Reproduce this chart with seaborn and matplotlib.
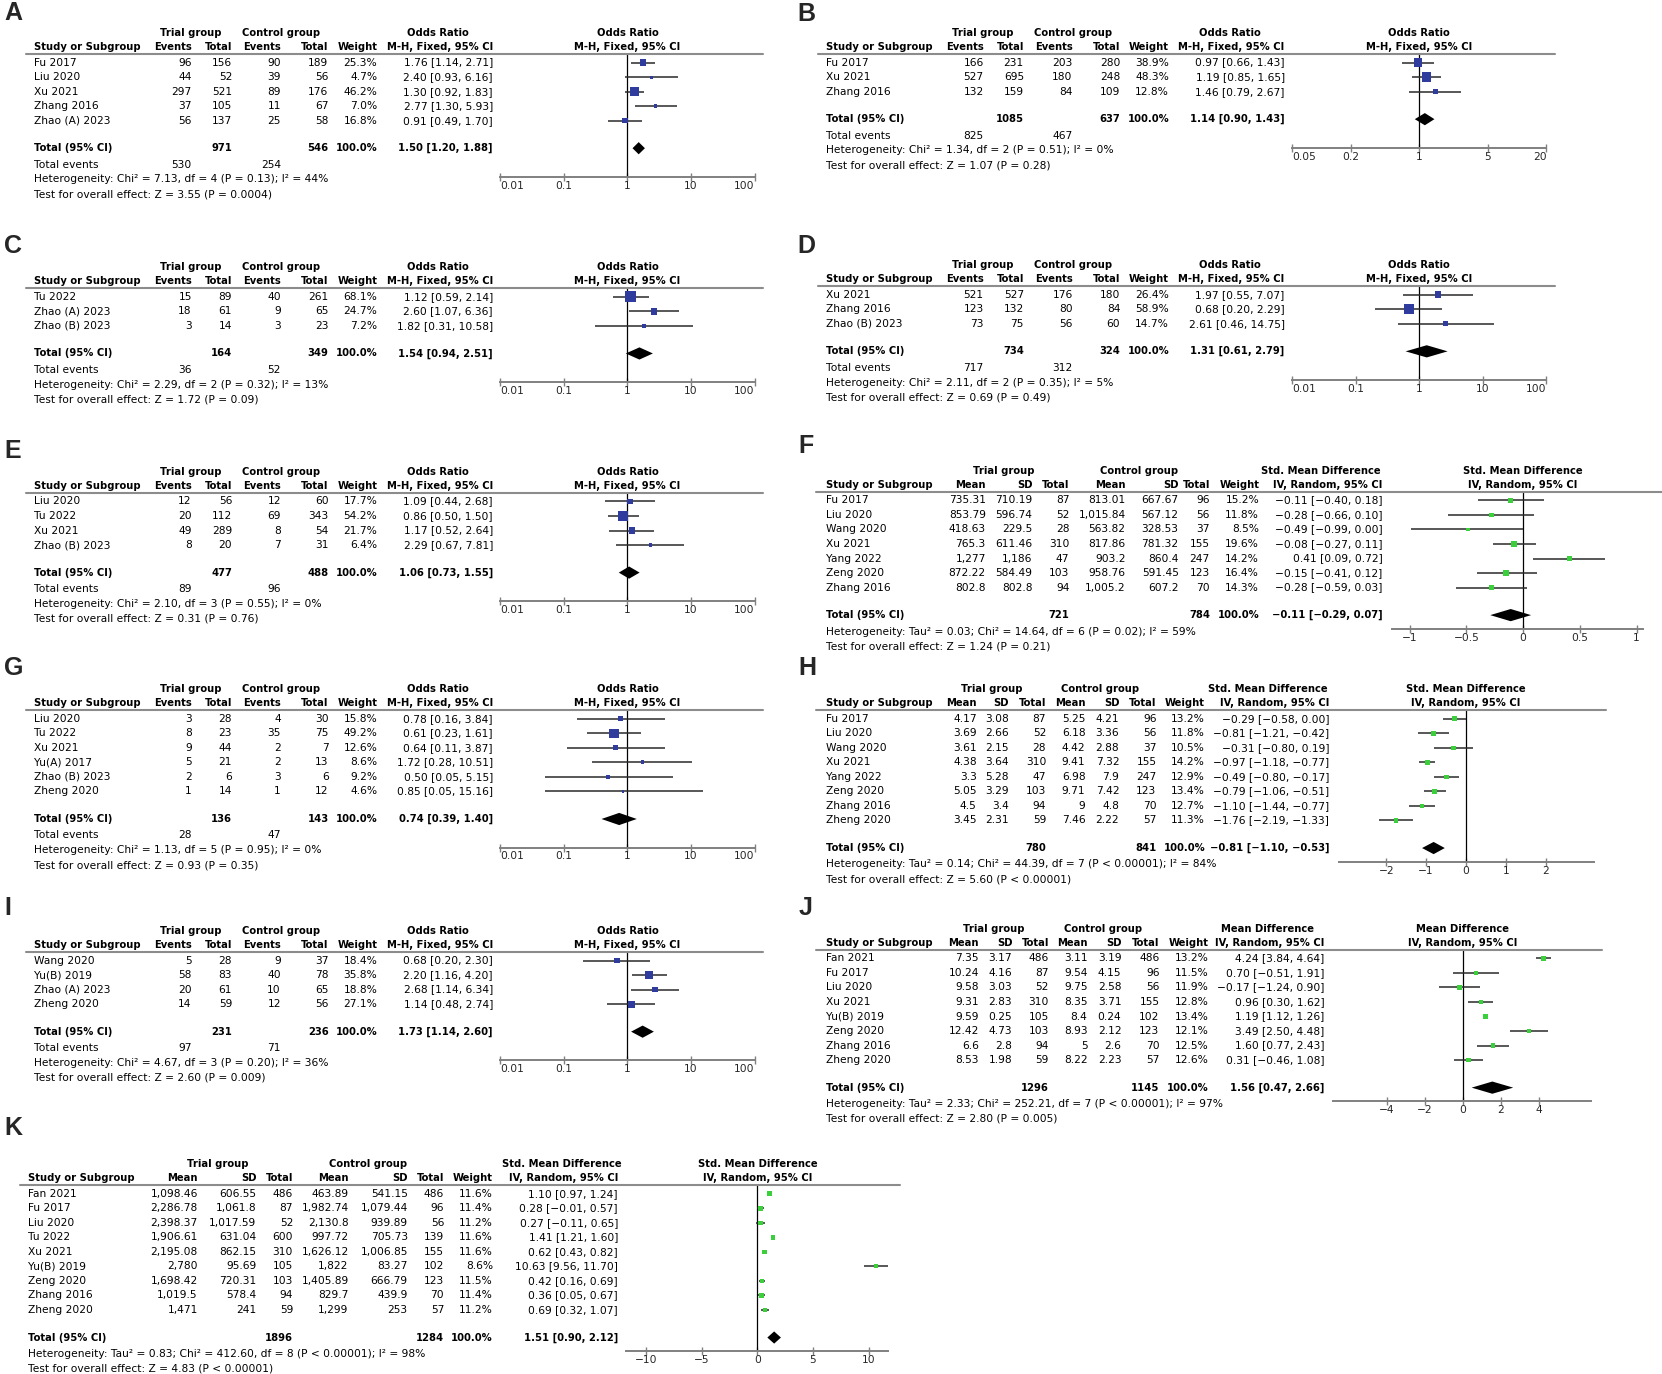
import matplotlib
matplotlib.use("Agg")
import matplotlib.pyplot as plt
from matplotlib.lines import Line2D
import seaborn as sns

# ---------------- data ----------------
# A
a_study = ["Fu 2017", "Liu 2020", "Xu 2021", "Zhang 2016", "Zhao (A) 2023"]
a_ev1 = [96, 44, 297, 37, 56]
a_tot1 = [156, 52, 521, 105, 137]
a_ev2 = [90, 39, 89, 11, 25]
a_tot2 = [189, 56, 176, 67, 58]
a_wt = [25.3, 4.7, 46.2, 7.0, 16.8]
a_est = [1.76, 2.40, 1.30, 2.77, 0.91]
a_lo = [1.14, 0.93, 0.92, 1.30, 0.49]
a_hi = [2.71, 6.16, 1.83, 5.93, 1.70]
a_total = [971, 546]
a_total_ci = [1.50, 1.20, 1.88]
a_events = [530, 254]
a_het = "Heterogeneity: Chi\u00b2 = 7.13, df = 4 (P = 0.13); I\u00b2 = 44%"
a_test = "Test for overall effect: Z = 3.55 (P = 0.0004)"

# B
b_study = ["Fu 2017", "Xu 2021", "Zhang 2016"]
b_ev1 = [166, 527, 132]
b_tot1 = [231, 695, 159]
b_ev2 = [203, 180, 84]
b_tot2 = [280, 248, 109]
b_wt = [38.9, 48.3, 12.8]
b_est = [0.97, 1.19, 1.46]
b_lo = [0.66, 0.85, 0.79]
b_hi = [1.43, 1.65, 2.67]
b_total = [1085, 637]
b_total_ci = [1.14, 0.90, 1.43]
b_events = [825, 467]
b_het = "Heterogeneity: Chi\u00b2 = 1.34, df = 2 (P = 0.51); I\u00b2 = 0%"
b_test = "Test for overall effect: Z = 1.07 (P = 0.28)"

# C
c_study = ["Tu 2022", "Zhao (A) 2023", "Zhao (B) 2023"]
c_ev1 = [15, 18, 3]
c_tot1 = [89, 61, 14]
c_ev2 = [40, 9, 3]
c_tot2 = [261, 65, 23]
c_wt = [68.1, 24.7, 7.2]
c_est = [1.12, 2.60, 1.82]
c_lo = [0.59, 1.07, 0.31]
c_hi = [2.14, 6.36, 10.58]
c_total = [164, 349]
c_total_ci = [1.54, 0.94, 2.51]
c_events = [36, 52]
c_het = "Heterogeneity: Chi\u00b2 = 2.29, df = 2 (P = 0.32); I\u00b2 = 13%"
c_test = "Test for overall effect: Z = 1.72 (P = 0.09)"

# D
d_study = ["Xu 2021", "Zhang 2016", "Zhao (B) 2023"]
d_ev1 = [521, 123, 73]
d_tot1 = [527, 132, 75]
d_ev2 = [176, 80, 56]
d_tot2 = [180, 84, 60]
d_wt = [26.4, 58.9, 14.7]
d_est = [1.97, 0.68, 2.61]
d_lo = [0.55, 0.20, 0.46]
d_hi = [7.07, 2.29, 14.75]
d_total = [734, 324]
d_total_ci = [1.31, 0.61, 2.79]
d_events = [717, 312]
d_het = "Heterogeneity: Chi\u00b2 = 2.11, df = 2 (P = 0.35); I\u00b2 = 5%"
d_test = "Test for overall effect: Z = 0.69 (P = 0.49)"

# E
e_study = ["Liu 2020", "Tu 2022", "Xu 2021", "Zhao (B) 2023"]
e_ev1 = [12, 20, 49, 8]
e_tot1 = [56, 112, 289, 20]
e_ev2 = [12, 69, 8, 7]
e_tot2 = [60, 343, 54, 31]
e_wt = [17.7, 54.2, 21.7, 6.4]
e_est = [1.09, 0.86, 1.17, 2.29]
e_lo = [0.44, 0.50, 0.52, 0.67]
e_hi = [2.68, 1.50, 2.64, 7.81]
e_total = [477, 488]
e_total_ci = [1.06, 0.73, 1.55]
e_events = [89, 96]
e_het = "Heterogeneity: Chi\u00b2 = 2.10, df = 3 (P = 0.55); I\u00b2 = 0%"
e_test = "Test for overall effect: Z = 0.31 (P = 0.76)"

# G
g_study = ["Liu 2020", "Tu 2022", "Xu 2021", "Yu(A) 2017", "Zhao (B) 2023", "Zheng 2020"]
g_ev1 = [3, 8, 9, 5, 2, 1]
g_tot1 = [28, 23, 44, 21, 6, 14]
g_ev2 = [4, 35, 2, 2, 3, 1]
g_tot2 = [30, 75, 7, 13, 6, 12]
g_wt = [15.8, 49.2, 12.6, 8.6, 9.2, 4.6]
g_est = [0.78, 0.61, 0.64, 1.72, 0.50, 0.85]
g_lo = [0.16, 0.23, 0.11, 0.28, 0.05, 0.05]
g_hi = [3.84, 1.61, 3.87, 10.51, 5.15, 15.16]
g_total = [136, 143]
g_total_ci = [0.74, 0.39, 1.40]
g_events = [28, 47]
g_het = "Heterogeneity: Chi\u00b2 = 1.13, df = 5 (P = 0.95); I\u00b2 = 0%"
g_test = "Test for overall effect: Z = 0.93 (P = 0.35)"

# I
i_study = ["Wang 2020", "Yu(B) 2019", "Zhao (A) 2023", "Zheng 2020"]
i_ev1 = [5, 58, 20, 14]
i_tot1 = [28, 83, 61, 59]
i_ev2 = [9, 40, 10, 12]
i_tot2 = [37, 78, 65, 56]
i_wt = [18.4, 35.8, 18.8, 27.1]
i_est = [0.68, 2.20, 2.68, 1.14]
i_lo = [0.20, 1.16, 1.14, 0.48]
i_hi = [2.30, 4.20, 6.34, 2.74]
i_total = [231, 236]
i_total_ci = [1.73, 1.14, 2.60]
i_events = [97, 71]
i_het = "Heterogeneity: Chi\u00b2 = 4.67, df = 3 (P = 0.20); I\u00b2 = 36%"
i_test = "Test for overall effect: Z = 2.60 (P = 0.009)"

# F
f_study = ["Fu 2017", "Liu 2020", "Wang 2020", "Xu 2021", "Yang 2022", "Zeng 2020", "Zhang 2016"]
f_mean1 = ["735.31", "853.79", "418.63", "765.3", "1,277", "872.22", "802.8"]
f_sd1 = ["710.19", "596.74", "229.5", "611.46", "1,186", "584.49", "802.8"]
f_n1 = [87, 52, 28, 310, 47, 103, 94]
f_mean2 = ["813.01", "1,015.84", "563.82", "817.86", "903.2", "958.76", "1,005.2"]
f_sd2 = ["667.67", "567.12", "328.53", "781.32", "860.4", "591.45", "607.2"]
f_n2 = [96, 56, 37, 155, 247, 123, 70]
f_wt = [15.2, 11.8, 8.5, 19.6, 14.2, 16.4, 14.3]
f_est = [-0.11, -0.28, -0.49, -0.08, 0.41, -0.15, -0.28]
f_lo = [-0.40, -0.66, -0.99, -0.27, 0.09, -0.41, -0.59]
f_hi = [0.18, 0.10, 0.00, 0.11, 0.72, 0.12, 0.03]
f_total = [721, 784]
f_total_ci = [-0.11, -0.29, 0.07]
f_het = "Heterogeneity: Tau\u00b2 = 0.03; Chi\u00b2 = 14.64, df = 6 (P = 0.02); I\u00b2 = 59%"
f_test = "Test for overall effect: Z = 1.24 (P = 0.21)"

# H
h_study = ["Fu 2017", "Liu 2020", "Wang 2020", "Xu 2021", "Yang 2022", "Zeng 2020", "Zhang 2016", "Zheng 2020"]
h_mean1 = ["4.17", "3.69", "3.61", "4.38", "3.3", "5.05", "4.5", "3.45"]
h_sd1 = ["3.08", "2.66", "2.15", "3.64", "5.28", "3.29", "3.4", "2.31"]
h_n1 = [87, 52, 28, 310, 47, 103, 94, 59]
h_mean2 = ["5.25", "6.18", "4.42", "9.41", "6.98", "9.71", "9", "7.46"]
h_sd2 = ["4.21", "3.36", "2.88", "7.32", "7.9", "7.42", "4.8", "2.22"]
h_n2 = [96, 56, 37, 155, 247, 123, 70, 57]
h_wt = [13.2, 11.8, 10.5, 14.2, 12.9, 13.4, 12.7, 11.3]
h_est = [-0.29, -0.81, -0.31, -0.97, -0.49, -0.79, -1.10, -1.76]
h_lo = [-0.58, -1.21, -0.80, -1.18, -0.80, -1.06, -1.44, -2.19]
h_hi = [0.00, -0.42, 0.19, -0.77, -0.17, -0.51, -0.77, -1.33]
h_total = [780, 841]
h_total_ci = [-0.81, -1.10, -0.53]
h_het = "Heterogeneity: Tau\u00b2 = 0.14; Chi\u00b2 = 44.39, df = 7 (P < 0.00001); I\u00b2 = 84%"
h_test = "Test for overall effect: Z = 5.60 (P < 0.00001)"

# J
j_study = ["Fan 2021", "Fu 2017", "Liu 2020", "Xu 2021", "Yu(B) 2019", "Zeng 2020", "Zhang 2016", "Zheng 2020"]
j_mean1 = ["7.35", "10.24", "9.58", "9.31", "9.59", "12.42", "6.6", "8.53"]
j_sd1 = ["3.17", "4.16", "3.03", "2.83", "0.25", "4.73", "2.8", "1.98"]
j_n1 = [486, 87, 52, 310, 105, 103, 94, 59]
j_mean2 = ["3.11", "9.54", "9.75", "8.35", "8.4", "8.93", "5", "8.22"]
j_sd2 = ["3.19", "4.15", "2.58", "3.71", "0.24", "2.12", "2.6", "2.23"]
j_n2 = [486, 96, 56, 155, 102, 123, 70, 57]
j_wt = [13.2, 11.5, 11.9, 12.8, 13.4, 12.1, 12.5, 12.6]
j_est = [4.24, 0.70, -0.17, 0.96, 1.19, 3.49, 1.60, 0.31]
j_lo = [3.84, -0.51, -1.24, 0.30, 1.12, 2.50, 0.77, -0.46]
j_hi = [4.64, 1.91, 0.90, 1.62, 1.26, 4.48, 2.43, 1.08]
j_total = [1296, 1145]
j_total_ci = [1.56, 0.47, 2.66]
j_het = "Heterogeneity: Tau\u00b2 = 2.33; Chi\u00b2 = 252.21, df = 7 (P < 0.00001); I\u00b2 = 97%"
j_test = "Test for overall effect: Z = 2.80 (P = 0.005)"

# K
k_study = ["Fan 2021", "Fu 2017", "Liu 2020", "Tu 2022", "Xu 2021", "Yu(B) 2019", "Zeng 2020", "Zhang 2016", "Zheng 2020"]
k_mean1 = ["1,098.46", "2,286.78", "2,398.37", "1,906.61", "2,195.08", "2,780", "1,698.42", "1,019.5", "1,471"]
k_sd1 = ["606.55", "1,061.8", "1,017.59", "631.04", "862.15", "95.69", "720.31", "578.4", "241"]
k_n1 = [486, 87, 52, 600, 310, 105, 103, 94, 59]
k_mean2 = ["463.89", "1,982.74", "2,130.8", "997.72", "1,626.12", "1,822", "1,405.89", "829.7", "1,299"]
k_sd2 = ["541.15", "1,079.44", "939.89", "705.73", "1,006.85", "83.27", "666.79", "439.9", "253"]
k_n2 = [486, 96, 56, 139, 155, 102, 123, 70, 57]
k_wt = [11.6, 11.4, 11.2, 11.6, 11.6, 8.6, 11.5, 11.4, 11.2]
k_est = [1.10, 0.28, 0.27, 1.41, 0.62, 10.63, 0.42, 0.36, 0.69]
k_lo = [0.97, -0.01, -0.11, 1.21, 0.43, 9.56, 0.16, 0.05, 0.32]
k_hi = [1.24, 0.57, 0.65, 1.60, 0.82, 11.70, 0.69, 0.67, 1.07]
k_total = [1896, 1284]
k_total_ci = [1.51, 0.90, 2.12]
k_het = "Heterogeneity: Tau\u00b2 = 0.83; Chi\u00b2 = 412.60, df = 8 (P < 0.00001); I\u00b2 = 98%"
k_test = "Test for overall effect: Z = 4.83 (P < 0.00001)"

or_ticks = [0.01, 0.1, 1, 10, 100]
or_ticklabels = ["0.01", "0.1", "1", "10", "100"]
b_ticks = [0.05, 0.2, 1, 5, 20]
b_ticklabels = ["0.05", "0.2", "1", "5", "20"]
f_ticks = [-1, -0.5, 0, 0.5, 1]
f_ticklabels = ["-1", "-0.5", "0", "0.5", "1"]
h_ticks = [-2, -1, 0, 1, 2]
h_ticklabels = ["-2", "-1", "0", "1", "2"]
j_ticks = [-4, -2, 0, 2, 4]
j_ticklabels = ["-4", "-2", "0", "2", "4"]
k_ticks = [-10, -5, 0, 5, 10]
k_ticklabels = ["-10", "-5", "0", "5", "10"]

OR_NAMES = ["Events", "Total", "Events", "Total"]
CONT_NAMES = ["Mean", "SD", "Total", "Mean", "SD", "Total"]


def or_panel(label, study, ev1, tot1, ev2, tot2, wt, est, lo, hi, total, total_ci, events, het, test, ticks, ticklabels):
    return dict(label=label, kind="or", study=study, cols=[ev1, tot1, ev2, tot2], wt=wt, est=est, lo=lo, hi=hi,
                total=total, total_ci=total_ci, events=events, het=het, test=test, ticks=ticks,
                ticklabels=ticklabels, measure="Odds Ratio", method="M-H, Fixed, 95% CI")


def cont_panel(label, study, m1, s1, n1, m2, s2, n2, wt, est, lo, hi, total, total_ci, het, test, ticks, ticklabels,
               measure="Std. Mean Difference"):
    return dict(label=label, kind="cont", study=study, cols=[m1, s1, n1, m2, s2, n2], wt=wt, est=est, lo=lo, hi=hi,
                total=total, total_ci=total_ci, events=None, het=het, test=test, ticks=ticks,
                ticklabels=ticklabels, measure=measure, method="IV, Random, 95% CI")


panels = [
    or_panel("A", a_study, a_ev1, a_tot1, a_ev2, a_tot2, a_wt, a_est, a_lo, a_hi, a_total, a_total_ci, a_events, a_het, a_test, or_ticks, or_ticklabels),
    or_panel("B", b_study, b_ev1, b_tot1, b_ev2, b_tot2, b_wt, b_est, b_lo, b_hi, b_total, b_total_ci, b_events, b_het, b_test, b_ticks, b_ticklabels),
    or_panel("C", c_study, c_ev1, c_tot1, c_ev2, c_tot2, c_wt, c_est, c_lo, c_hi, c_total, c_total_ci, c_events, c_het, c_test, or_ticks, or_ticklabels),
    or_panel("D", d_study, d_ev1, d_tot1, d_ev2, d_tot2, d_wt, d_est, d_lo, d_hi, d_total, d_total_ci, d_events, d_het, d_test, or_ticks, or_ticklabels),
    or_panel("E", e_study, e_ev1, e_tot1, e_ev2, e_tot2, e_wt, e_est, e_lo, e_hi, e_total, e_total_ci, e_events, e_het, e_test, or_ticks, or_ticklabels),
    cont_panel("F", f_study, f_mean1, f_sd1, f_n1, f_mean2, f_sd2, f_n2, f_wt, f_est, f_lo, f_hi, f_total, f_total_ci, f_het, f_test, f_ticks, f_ticklabels),
    or_panel("G", g_study, g_ev1, g_tot1, g_ev2, g_tot2, g_wt, g_est, g_lo, g_hi, g_total, g_total_ci, g_events, g_het, g_test, or_ticks, or_ticklabels),
    cont_panel("H", h_study, h_mean1, h_sd1, h_n1, h_mean2, h_sd2, h_n2, h_wt, h_est, h_lo, h_hi, h_total, h_total_ci, h_het, h_test, h_ticks, h_ticklabels),
    or_panel("I", i_study, i_ev1, i_tot1, i_ev2, i_tot2, i_wt, i_est, i_lo, i_hi, i_total, i_total_ci, i_events, i_het, i_test, or_ticks, or_ticklabels),
    cont_panel("J", j_study, j_mean1, j_sd1, j_n1, j_mean2, j_sd2, j_n2, j_wt, j_est, j_lo, j_hi, j_total, j_total_ci, j_het, j_test, j_ticks, j_ticklabels, measure="Mean Difference"),
    cont_panel("K", k_study, k_mean1, k_sd1, k_n1, k_mean2, k_sd2, k_n2, k_wt, k_est, k_lo, k_hi, k_total, k_total_ci, k_het, k_test, k_ticks, k_ticklabels),
]

# ---------------- layout (reference frame 1568 x 1296) ----------------
W_REF, H_REF = 1568, 1296
ROW = 13.7
FS = 7.7       # regular table text
FS_B = 7.2     # bold header / total text

OR_OFF = dict(colx=[149, 187, 233, 278], w=324, cir=433, cic=381, g1=148, g2=233, rule=(-7, 688))


def or_lay(x0, y0, lab, xlim):
    d = dict(OR_OFF)
    d.update(x0=x0, y0=y0, lab=lab, xlim=xlim, null=x0 + 560, ax=(x0 + 440, x0 + 680))
    return d


def cont_lay(x0, y0, lab, colx, w, cir, cic, g1, g2, null, unit, ax, rule):
    return dict(x0=x0, y0=y0, lab=lab, colx=colx, w=w, cir=cir, cic=cic, g1=g1, g2=g2, null=null,
                ax=ax, xlim=((ax[0] - null) / unit, (ax[1] - null) / unit), rule=rule)


layout = {
    "A": or_lay(32, 31, (4, 12), (0.01, 100)),
    "B": or_lay(779, 31, (752, 13), (0.05, 20)),
    "C": or_lay(32, 252, (4, 232), (0.01, 100)),
    "D": or_lay(779, 250, (752, 232), (0.01, 100)),
    "E": or_lay(32, 445, (4, 425), (0.01, 100)),
    "G": or_lay(32, 650, (4, 630), (0.01, 100)),
    "I": or_lay(32, 878, (4, 856), (0.01, 100)),
    "F": cont_lay(779, 444, (753, 421), [151, 195, 230, 283, 333, 362.5], 409, 525.5, 467, 168, 296,
                  1437, 107, (1313, 1550), (-9, 789)),
    "H": cont_lay(779, 650, (753, 630), [142.5, 173, 208, 245, 277, 312], 358, 475, 417, 157, 259,
                  1383, 37.6, (1263, 1504), (-9, 736)),
    "J": cont_lay(779, 876, (753, 856), [144.5, 176, 210.6, 247, 279, 315], 361, 470.5, 417, 159, 262,
                  1380, 17.9, (1258, 1501), (-9, 732)),
    "K": cont_lay(26, 1098, (4, 1064), [160.6, 216, 250.5, 303, 358.7, 393], 439, 557, 504.5, 179, 321,
                  714.5, 10.5, (590.5, 838), (-7, 823)),
}

sns.set_theme(style="white")
plt.rcParams["font.family"] = ["DejaVu Sans"]

fig = plt.figure(figsize=(16.62, 13.74), dpi=100)


def fx(x):
    return x / W_REF


def fy(y):
    return 1 - y / H_REF


def put(x, y, s, ha="left", bold=False):
    fig.text(fx(x), fy(y), s, ha=ha, va="center", fontsize=FS_B if bold else FS, color="black",
             fontweight="bold" if bold else "normal")


def minus(s):
    return s.replace("-", "\u2212")


def ci_text(e, l, h):
    return minus(f"{e:.2f} [{l:.2f}, {h:.2f}]")


def draw(p, lay):
    is_or = p["kind"] == "or"
    x0, y0 = lay["x0"], lay["y0"]
    n = len(p["study"])
    row0 = y0 + 28
    rows_px = [row0 + i * ROW for i in range(n)]
    tot_px = rows_px[-1] + 26
    rule_px = y0 + 20
    axis_px = tot_px + (27 if is_or else 13)
    names = OR_NAMES if is_or else CONT_NAMES

    fig.text(fx(lay["lab"][0]), fy(lay["lab"][1]), p["label"], fontsize=18, fontweight="bold",
             family=["Liberation Sans", "DejaVu Sans"], ha="left", va="center")

    # headers
    put(x0 + lay["g1"], y0, "Trial group", "center", True)
    put(x0 + lay["g2"], y0, "Control group", "center", True)
    put(x0 + lay["cic"], y0, p["measure"], "center", True)
    put(lay["null"], y0, p["measure"], "center", True)
    y1 = y0 + 13
    put(x0, y1, "Study or Subgroup", bold=True)
    for cx, name in zip(lay["colx"], names):
        put(x0 + cx, y1, name, "right", True)
    put(x0 + lay["w"], y1, "Weight", "right", True)
    put(x0 + lay["cir"], y1, p["method"], "right", True)
    put(lay["null"], y1, p["method"], "center", True)
    fig.add_artist(Line2D([fx(x0 + lay["rule"][0]), fx(x0 + lay["rule"][1])], [fy(rule_px)] * 2,
                          transform=fig.transFigure, color="#8c8c8c", lw=1.5))

    # study rows
    for i in range(n):
        put(x0, rows_px[i], p["study"][i])
        for cx, col in zip(lay["colx"], p["cols"]):
            put(x0 + cx, rows_px[i], str(col[i]), "right")
        put(x0 + lay["w"], rows_px[i], f"{p['wt'][i]:.1f}%", "right")
        put(x0 + lay["cir"], rows_px[i], ci_text(p["est"][i], p["lo"][i], p["hi"][i]), "right")

    # total row
    tot_cols = (1, 3) if is_or else (2, 5)
    put(x0, tot_px, "Total (95% CI)", bold=True)
    for k, val in zip(tot_cols, p["total"]):
        put(x0 + lay["colx"][k], tot_px, str(val), "right", True)
    put(x0 + lay["w"], tot_px, "100.0%", "right", True)
    put(x0 + lay["cir"], tot_px, ci_text(*p["total_ci"]), "right", True)

    # footer
    yy = tot_px + 15.5
    if is_or:
        put(x0, yy, "Total events")
        put(x0 + lay["colx"][0], yy, str(p["events"][0]), "right")
        put(x0 + lay["colx"][2], yy, str(p["events"][1]), "right")
        yy += 14
    put(x0, yy, p["het"])
    put(x0, yy + 14, p["test"])

    # forest plot
    axl, axr = lay["ax"]
    ax = fig.add_axes([fx(axl), fy(axis_px), fx(axr) - fx(axl), fy(rule_px) - fy(axis_px)])
    if is_or:
        ax.set_xscale("log")
    ax.set_xlim(*lay["xlim"])
    ax.set_ylim((axis_px - row0) / ROW, (rule_px - row0) / ROW)
    ax.set_facecolor("none")

    ys = list(range(n))
    ax.axvline(1 if is_or else 0, color="black", lw=0.9, zorder=1)
    ax.hlines(ys, p["lo"], p["hi"], color="#2a2a2a", lw=1.1, zorder=2)
    sq_color = "#2f3c9e" if is_or else "#3ccf3c"
    sns.scatterplot(x=p["est"], y=ys, s=[0.92 * w for w in p["wt"]], marker="s", color=sq_color,
                    linewidth=0, legend=False, ax=ax, zorder=3)
    te, tl, th = p["total_ci"]
    ty = (tot_px - row0) / ROW
    ax.fill([tl, te, th, te], [ty, ty - 0.42, ty, ty + 0.42], color="black", lw=0, zorder=3)

    for s in ("top", "right", "left"):
        ax.spines[s].set_visible(False)
    ax.spines["bottom"].set_color("#808080")
    ax.spines["bottom"].set_linewidth(1.4)
    ax.minorticks_off()
    ax.set_yticks([])
    ax.set_xticks(p["ticks"])
    ax.set_xticklabels([minus(t) for t in p["ticklabels"]])
    ax.tick_params(axis="x", direction="inout", length=5.5, width=1, color="#808080",
                   labelsize=FS, pad=0, bottom=True)
    if is_or:
        labs = ax.get_xticklabels()
        labs[0].set_ha("left")
        labs[-1].set_ha("right")
    ax.grid(False)


for p in panels:
    draw(p, layout[p["label"]])

fig.savefig("out.png", dpi=100, facecolor="white")
